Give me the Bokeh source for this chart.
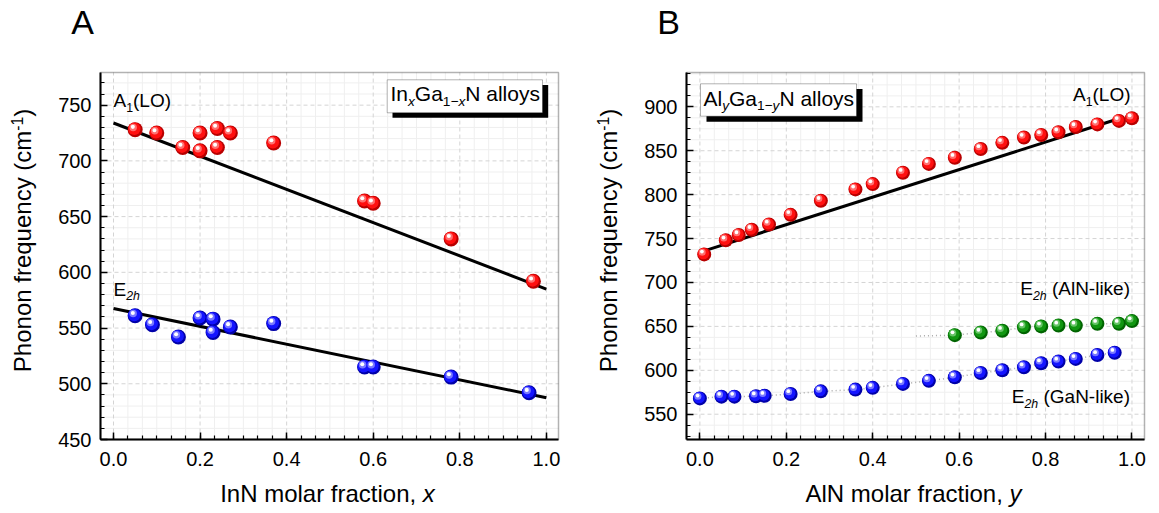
import math
from bokeh.plotting import figure
from bokeh.layouts import row
from bokeh.models import (Range1d, SingleIntervalTicker, PrintfTickFormatter, Label,
                          BoxAnnotation, ColumnDataSource)
from bokeh.transform import dodge
from bokeh.embed import file_html
from bokeh.resources import INLINE

# ---------------- Panel A data: InGaN ----------------
ingan_a1lo_x = [0.05, 0.10, 0.16, 0.20, 0.20, 0.24, 0.24, 0.27, 0.37, 0.58, 0.60, 0.78, 0.97]
ingan_a1lo_y = [728, 725, 712, 725, 709, 729, 712, 725, 716, 664, 662, 630, 592]
ingan_e2h_x = [0.05, 0.09, 0.15, 0.20, 0.23, 0.23, 0.27, 0.37, 0.58, 0.60, 0.78, 0.96]
ingan_e2h_y = [561, 553, 542, 559, 558, 546, 551, 554, 515, 515, 506, 492]
ingan_a1lo_fit_x = [0.0, 1.0]
ingan_a1lo_fit_y = [734, 585]
ingan_e2h_fit_x = [0.0, 1.0]
ingan_e2h_fit_y = [567.5, 487.5]

# ---------------- Panel B data: AlGaN ----------------
algan_a1lo_x = [0.01, 0.06, 0.09, 0.12, 0.16, 0.21, 0.28, 0.36, 0.40, 0.47, 0.53,
                0.59, 0.65, 0.70, 0.75, 0.79, 0.83, 0.87, 0.92, 0.97, 1.00]
algan_a1lo_y = [732, 748, 754, 760, 766, 777, 793, 806, 812, 825, 835,
                842, 852, 859, 865, 868, 871, 877, 880, 884, 887]
algan_gan_x = [0.00, 0.05, 0.08, 0.13, 0.15, 0.21, 0.28, 0.36, 0.40, 0.47,
               0.53, 0.59, 0.65, 0.70, 0.75, 0.79, 0.83, 0.87, 0.92, 0.96]
algan_gan_y = [568, 570, 570, 570.5, 571, 573, 576, 578, 580, 584.5,
               588, 592, 597, 600, 603.5, 608, 610, 613, 617.5, 620]
algan_aln_x = [0.59, 0.65, 0.70, 0.75, 0.79, 0.83, 0.87, 0.92, 0.97, 1.00]
algan_aln_y = [640, 643, 645, 649, 650, 651, 651, 653, 653, 656]
algan_aln_guide_x = [0.50, 0.59]
algan_aln_guide_y = [639, 640]
algan_a1lo_fit_x = [0.01, 0.96]
algan_a1lo_fit_y = [736, 885]

# axis extents (data units) and tick steps
ingan_x_lim = (-0.030, 1.028)
ingan_y_lim = (450.0, 779.3)
algan_x_lim = (-0.031, 1.029)
algan_y_lim = (521.2, 939.1)
x_tick_step = 0.2
y_tick_step = 50

FONT = "Liberation Sans"
BASE_FIX = 0.40  # Bokeh label baseline correction (fraction of font size)
W = {' ': 278, '(': 333, ')': 333, '-': 333, ',': 278, '.': 278, '\u2212': 584,
     'A': 667, 'B': 667, 'E': 667, 'G': 778, 'I': 278, 'L': 556, 'N': 722, 'O': 778, 'P': 667,
     'a': 556, 'c': 500, 'e': 556, 'f': 278, 'h': 556, 'i': 222, 'k': 500, 'l': 222,
     'm': 833, 'n': 556, 'o': 556, 'q': 556, 'r': 333, 's': 500, 't': 278, 'u': 556,
     'x': 500, 'y': 500}


def tw(s, size):
    return sum(W.get(c, 556) for c in s) * size / 1000.0


def make_conv(fx0, fy0, fw, fh, xr, yr):
    def conv(px, py):
        return (xr[0] + (px - fx0) / fw * (xr[1] - xr[0]),
                yr[1] - (py - fy0) / fh * (yr[1] - yr[0]))
    return conv


def rich(p, conv, runs, px, py, size, align="left", angle=0.0):
    items = []
    for txt, kind in runs:
        small = kind in ("sub", "subi", "sup")
        rs = size * 0.65 if small else size
        if kind in ("sub", "subi"):
            shift = 0.22 * size
        elif kind == "sup":
            shift = -0.40 * size
        else:
            shift = 0.0
        shift -= BASE_FIX * rs
        italic = kind in ("subi", "i")
        items.append((txt, rs, shift, italic, tw(txt, rs)))
    total = sum(it[4] for it in items)
    start = {"left": 0.0, "center": -total / 2.0, "right": -total}[align]
    pos = start
    for txt, rs, shift, italic, w in items:
        lead = len(txt) - len(txt.lstrip(" "))
        skip = tw(" " * lead, rs)
        body = txt.strip(" ")
        if body:
            q = pos + skip
            if angle == 0:
                ax, ay = px + q, py + shift
            else:
                ax, ay = px + shift, py - q
            x, y = conv(ax, ay)
            p.add_layout(Label(x=x, y=y, text=body, text_font=FONT, text_font_size=f"{rs:.1f}px",
                               text_font_style="italic" if italic else "normal",
                               text_color="black", text_align="left",
                               text_baseline="alphabetic", angle=angle))
        pos += w


def spheres(p, x, y, cols, size, xpp, ypp):
    src = ColumnDataSource(dict(x=x, y=y))
    base, main, light = cols
    p.scatter("x", "y", source=src, size=size, fill_color=base, line_color=None)
    p.scatter(dodge("x", -0.8 * xpp), dodge("y", 0.8 * ypp), source=src, size=size - 2.5,
              fill_color=main, line_color=None)
    p.scatter(dodge("x", -2.0 * xpp), dodge("y", 2.2 * ypp), source=src, size=size * 0.5,
              fill_color=light, line_color=None)
    p.scatter(dodge("x", -2.3 * xpp), dodge("y", 2.8 * ypp), source=src, size=size * 0.27,
              fill_color="white", line_color=None)


def steps(lo, hi, step):
    out = []
    k = math.ceil(lo / step - 1e-9)
    while k * step <= hi + 1e-9:
        out.append(round(k * step, 6))
        k += 1
    return out


def make_panel(canvas_x0, width, frame, xlim, ylim, y_minor):
    fx0, fy0, fx1, fy1 = frame
    conv = make_conv(fx0, fy0, fx1 - fx0, fy1 - fy0, xlim, ylim)
    xs, ye_ = conv(canvas_x0, 0)
    xe, ys_ = conv(canvas_x0 + width, 513)
    p = figure(width=width, height=513, x_range=Range1d(xs, xe), y_range=Range1d(ys_, ye_),
               output_backend="svg", toolbar_location=None,
               min_border=0, min_border_left=0, min_border_right=0,
               min_border_top=0, min_border_bottom=0)
    p.background_fill_color = "white"
    p.border_fill_color = "white"
    p.outline_line_color = None
    p.xgrid.visible = False
    p.ygrid.visible = False

    # grid lines (major dashed, minor faint) bounded to the plot box
    xmaj = steps(xlim[0], xlim[1], x_tick_step)
    ymaj = steps(ylim[0], ylim[1], y_tick_step)
    xmin_ = [v for v in steps(xlim[0], xlim[1], x_tick_step / 6)
             if all(abs(v - m) > 1e-6 for m in xmaj)]
    ymin_ = [v for v in steps(ylim[0], ylim[1], y_tick_step / y_minor)
             if all(abs(v - m) > 1e-6 for m in ymaj)]
    p.segment(x0=xmin_, x1=xmin_, y0=[ylim[0]] * len(xmin_), y1=[ylim[1]] * len(xmin_),
              line_color="#efefef", line_width=1)
    p.segment(x0=[xlim[0]] * len(ymin_), x1=[xlim[1]] * len(ymin_), y0=ymin_, y1=ymin_,
              line_color="#efefef", line_width=1)
    p.segment(x0=xmaj, x1=xmaj, y0=[ylim[0]] * len(xmaj), y1=[ylim[1]] * len(xmaj),
              line_color="#d4d4d4", line_width=1, line_dash="4 3")
    ymj = [v for v in ymaj if v > ylim[0] + 1e-6]
    p.segment(x0=[xlim[0]] * len(ymj), x1=[xlim[1]] * len(ymj), y0=ymj, y1=ymj,
              line_color="#d4d4d4", line_width=1, line_dash="4 3")

    p.xaxis.ticker = SingleIntervalTicker(interval=x_tick_step, num_minor_ticks=6)
    p.yaxis.ticker = SingleIntervalTicker(interval=y_tick_step, num_minor_ticks=y_minor)
    p.xaxis.formatter = PrintfTickFormatter(format="%.1f")
    p.xaxis.fixed_location = ylim[0]
    p.yaxis.fixed_location = xlim[0]
    p.xaxis.bounds = xlim
    p.yaxis.bounds = ylim
    for ax in p.axis:
        ax.axis_line_width = 2
        ax.axis_line_color = "black"
        ax.major_tick_in = 7
        ax.major_tick_out = 0
        ax.minor_tick_in = 4
        ax.minor_tick_out = 0
        ax.major_tick_line_width = 1.5
        ax.minor_tick_line_width = 1.2
        ax.major_tick_line_color = "black"
        ax.minor_tick_line_color = "black"
        ax.major_label_text_font = FONT
        ax.major_label_text_font_size = "20px"
        ax.major_label_text_color = "black"
    p.xaxis.major_label_standoff = 12
    p.yaxis.major_label_standoff = 9
    return p, conv


RED = ("#b80000", "#ff1010", "#ff7070")
BLUE = ("#0000a8", "#1414ff", "#7878ff")
GREEN = ("#006400", "#119611", "#66c466")

# ---------------- Panel A ----------------
pA, convA = make_panel(0, 580, (100, 72, 558, 439), ingan_x_lim, ingan_y_lim, 5)
xppA = (ingan_x_lim[1] - ingan_x_lim[0]) / 458
yppA = (ingan_y_lim[1] - ingan_y_lim[0]) / 367

pA.line(ingan_a1lo_fit_x, ingan_a1lo_fit_y, line_color="black", line_width=3)
pA.line(ingan_e2h_fit_x, ingan_e2h_fit_y, line_color="black", line_width=3)
spheres(pA, ingan_a1lo_x, ingan_a1lo_y, RED, 15, xppA, yppA)
spheres(pA, ingan_e2h_x, ingan_e2h_y, BLUE, 15, xppA, yppA)

pA.add_layout(BoxAnnotation(left=ingan_x_lim[0], right=ingan_x_lim[1], bottom=ingan_y_lim[0],
                            top=ingan_y_lim[1], fill_alpha=0, line_color="black", line_width=1.5))
x0, y0 = convA(392, 84.5)
x1, y1 = convA(547.7, 117.3)
pA.add_layout(BoxAnnotation(left=x0, right=x1, top=y0, bottom=y1, fill_color="black",
                            fill_alpha=1, line_color=None))
x0, y0 = convA(386.7, 79.3)
x1, y1 = convA(542, 112.3)
pA.add_layout(BoxAnnotation(left=x0, right=x1, top=y0, bottom=y1, fill_color="white",
                            fill_alpha=1, line_color="black", line_width=1))

rich(pA, convA, [("In", "n"), ("x", "subi"), ("Ga", "n"), ("1\u2212", "sub"), ("x", "subi"),
                 ("N alloys", "n")], 390, 101.7, 21)
rich(pA, convA, [("A", "n"), ("1", "sub"), ("(LO)", "n")], 113, 108, 19)
rich(pA, convA, [("E", "n"), ("2h", "subi")], 113, 296.5, 19)
rich(pA, convA, [("A", "n")], 82, 35, 34, align="center")
rich(pA, convA, [("InN molar fraction, ", "n"), ("x", "i")], 327, 503, 24, align="center")
rich(pA, convA, [("Phonon frequency (cm", "n"), ("-1", "sup"), (")", "n")], 32, 240, 24,
     align="center", angle=math.pi / 2)

# ---------------- Panel B ----------------
pB, convB = make_panel(580, 579, (686, 72, 1144, 439), algan_x_lim, algan_y_lim, 4)
xppB = (algan_x_lim[1] - algan_x_lim[0]) / 458
yppB = (algan_y_lim[1] - algan_y_lim[0]) / 367

pB.line(algan_gan_x, algan_gan_y, line_color="#a8a8a8", line_width=1.5, line_dash="1 3")
pB.line(algan_aln_guide_x, algan_aln_guide_y, line_color="#a8a8a8", line_width=1.5, line_dash="1 3")
pB.line(algan_aln_x, algan_aln_y, line_color="#a8a8a8", line_width=1.5, line_dash="1 3")
pB.line(algan_a1lo_fit_x, algan_a1lo_fit_y, line_color="black", line_width=3)
spheres(pB, algan_a1lo_x, algan_a1lo_y, RED, 14, xppB, yppB)
spheres(pB, algan_aln_x, algan_aln_y, GREEN, 14, xppB, yppB)
spheres(pB, algan_gan_x, algan_gan_y, BLUE, 14, xppB, yppB)

pB.add_layout(BoxAnnotation(left=algan_x_lim[0], right=algan_x_lim[1], bottom=algan_y_lim[0],
                            top=algan_y_lim[1], fill_alpha=0, line_color="black", line_width=1.5))
x0, y0 = convB(706, 88.5)
x1, y1 = convB(862, 121.3)
pB.add_layout(BoxAnnotation(left=x0, right=x1, top=y0, bottom=y1, fill_color="black",
                            fill_alpha=1, line_color=None))
x0, y0 = convB(700, 83.3)
x1, y1 = convB(856, 115.7)
pB.add_layout(BoxAnnotation(left=x0, right=x1, top=y0, bottom=y1, fill_color="white",
                            fill_alpha=1, line_color="black", line_width=1))

rich(pB, convB, [("Al", "n"), ("y", "subi"), ("Ga", "n"), ("1\u2212", "sub"), ("y", "subi"),
                 ("N alloys", "n")], 703, 106, 21)
rich(pB, convB, [("A", "n"), ("1", "sub"), ("(LO)", "n")], 1130, 101.7, 19, align="right")
rich(pB, convB, [("E", "n"), ("2h", "subi"), (" (AlN-like)", "n")], 1129.5, 296, 19, align="right")
rich(pB, convB, [("E", "n"), ("2h", "subi"), (" (GaN-like)", "n")], 1129.5, 404, 19, align="right")
rich(pB, convB, [("B", "n")], 668, 35, 34, align="center")
rich(pB, convB, [("AlN molar fraction, ", "n"), ("y", "i")], 913, 503, 24, align="center")
rich(pB, convB, [("Phonon frequency (cm", "n"), ("-1", "sup"), (")", "n")], 618, 240, 24,
     align="center", angle=math.pi / 2)

layout = row(pA, pB)
open("out.html", "w").write(file_html(layout, INLINE))
